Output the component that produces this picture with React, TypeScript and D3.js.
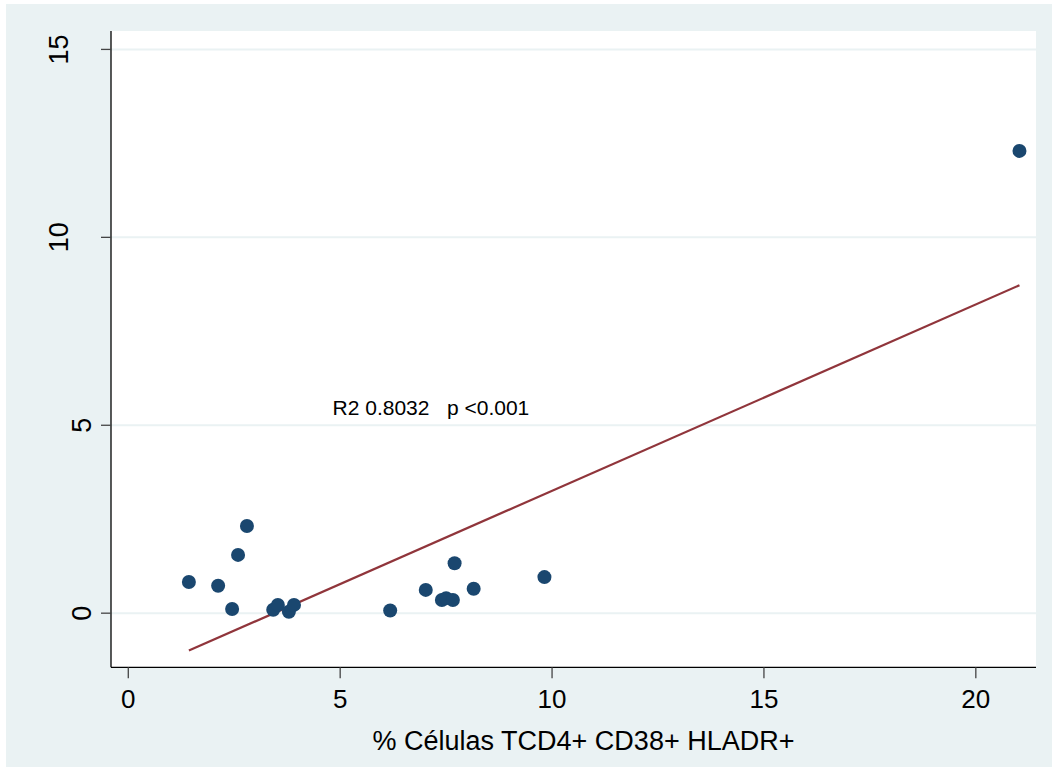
import React from "react";
import * as d3 from "d3";

// % CD4+ CD38+ HLA-DR+ T cells (x) against the outcome measure (y)
const xValues = [1.43, 2.12, 2.45, 2.59, 2.8, 3.42, 3.53, 3.79, 3.91, 6.18, 7.02, 7.4, 7.5, 7.66, 7.7, 8.15, 9.82, 21.03];
const yValues = [0.83, 0.73, 0.11, 1.55, 2.32, 0.09, 0.22, 0.04, 0.22, 0.07, 0.62, 0.35, 0.4, 0.35, 1.33, 0.65, 0.96, 12.3];

const xTicks = [0, 5, 10, 15, 20];
const yTicks = [0, 5, 10, 15];
const xTitle = "% Células TCD4+ CD38+ HLADR+";
const annotation = "R2 0.8032   p <0.001";
const annotationPos = { x: 4.82, y: 5.46 };

const W = 1052;
const H = 767;
const BG = "#EAF2F3";
const NAVY = "#1A476F";
const MAROON = "#90353B";
const FONT = "'Liberation Sans', Arial, Helvetica, sans-serif";

// plot region in pixels
const left = 111;
const right = 1036;
const top = 31;
const bottom = 667.3;

export default function App() {
  const x = d3.scaleLinear().domain([-0.408, 21.42]).range([left, right]);
  const y = d3.scaleLinear().domain([-1.44, 15.49]).range([bottom, top]);

  // ordinary least squares fit
  const mx = d3.mean(xValues) as number;
  const my = d3.mean(yValues) as number;
  let sxy = 0;
  let sxx = 0;
  xValues.forEach((xv, i) => {
    sxy += (xv - mx) * (yValues[i] - my);
    sxx += (xv - mx) * (xv - mx);
  });
  const slope = sxy / sxx;
  const intercept = my - slope * mx;
  const [xMin, xMax] = d3.extent(xValues) as [number, number];
  const fitLine = d3
    .line<number>()
    .x((d) => x(d))
    .y((d) => y(intercept + slope * d));

  // rotated y labels: baseline shifts left with label length
  const yLabelBaseline = (t: number) => (String(t).length > 1 ? 68 : 91);

  return (
    <svg
      width={W}
      height={H}
      style={{ position: "absolute", left: 0, top: 0, display: "block" }}
    >
      <rect x={0} y={0} width={W} height={H} fill="#ffffff" />
      <rect x={6} y={4} width={W - 6} height={H - 4} fill={BG} />
      <rect x={left} y={top} width={right - left} height={bottom - top} fill="#ffffff" />

      {/* horizontal grid */}
      {yTicks.map((t) => (
        <line
          key={"g" + t}
          x1={left}
          x2={right}
          y1={y(t)}
          y2={y(t)}
          stroke={BG}
          strokeWidth={2}
        />
      ))}

      {/* fitted values */}
      <path d={fitLine([xMin, xMax]) || ""} fill="none" stroke={MAROON} strokeWidth={2.2} />

      {/* observations */}
      {xValues.map((xv, i) => (
        <circle key={"p" + i} cx={x(xv)} cy={y(yValues[i])} r={7} fill={NAVY} />
      ))}

      {/* axes */}
      <line x1={left} x2={left} y1={top} y2={bottom} stroke="#000" strokeWidth={1.3} />
      <line x1={left} x2={right} y1={bottom} y2={bottom} stroke="#000" strokeWidth={1.3} />

      {yTicks.map((t) => (
        <g key={"yt" + t}>
          <line x1={left - 10} x2={left} y1={y(t)} y2={y(t)} stroke="#444" strokeWidth={1.3} />
          <text
            transform={`translate(${yLabelBaseline(t)},${y(t)}) rotate(-90)`}
            textAnchor="middle"
            fontFamily={FONT}
            fontSize={27}
            fill="#000"
          >
            {t}
          </text>
        </g>
      ))}

      {xTicks.map((t) => (
        <g key={"xt" + t}>
          <line x1={x(t)} x2={x(t)} y1={bottom} y2={bottom + 11} stroke="#444" strokeWidth={1.3} />
          <text
            x={x(t)}
            y={708}
            textAnchor="middle"
            fontFamily={FONT}
            fontSize={26}
            fill="#000"
          >
            {t}
          </text>
        </g>
      ))}

      <text
        x={(left + right) / 2 + 10}
        y={750}
        textAnchor="middle"
        fontFamily={FONT}
        fontSize={27}
        fill="#000"
      >
        {xTitle}
      </text>

      <text
        x={x(annotationPos.x)}
        y={y(annotationPos.y) + 7}
        fontFamily={FONT}
        fontSize={21}
        fill="#000"
        style={{ whiteSpace: "pre" }}
      >
        {annotation}
      </text>
    </svg>
  );
}
